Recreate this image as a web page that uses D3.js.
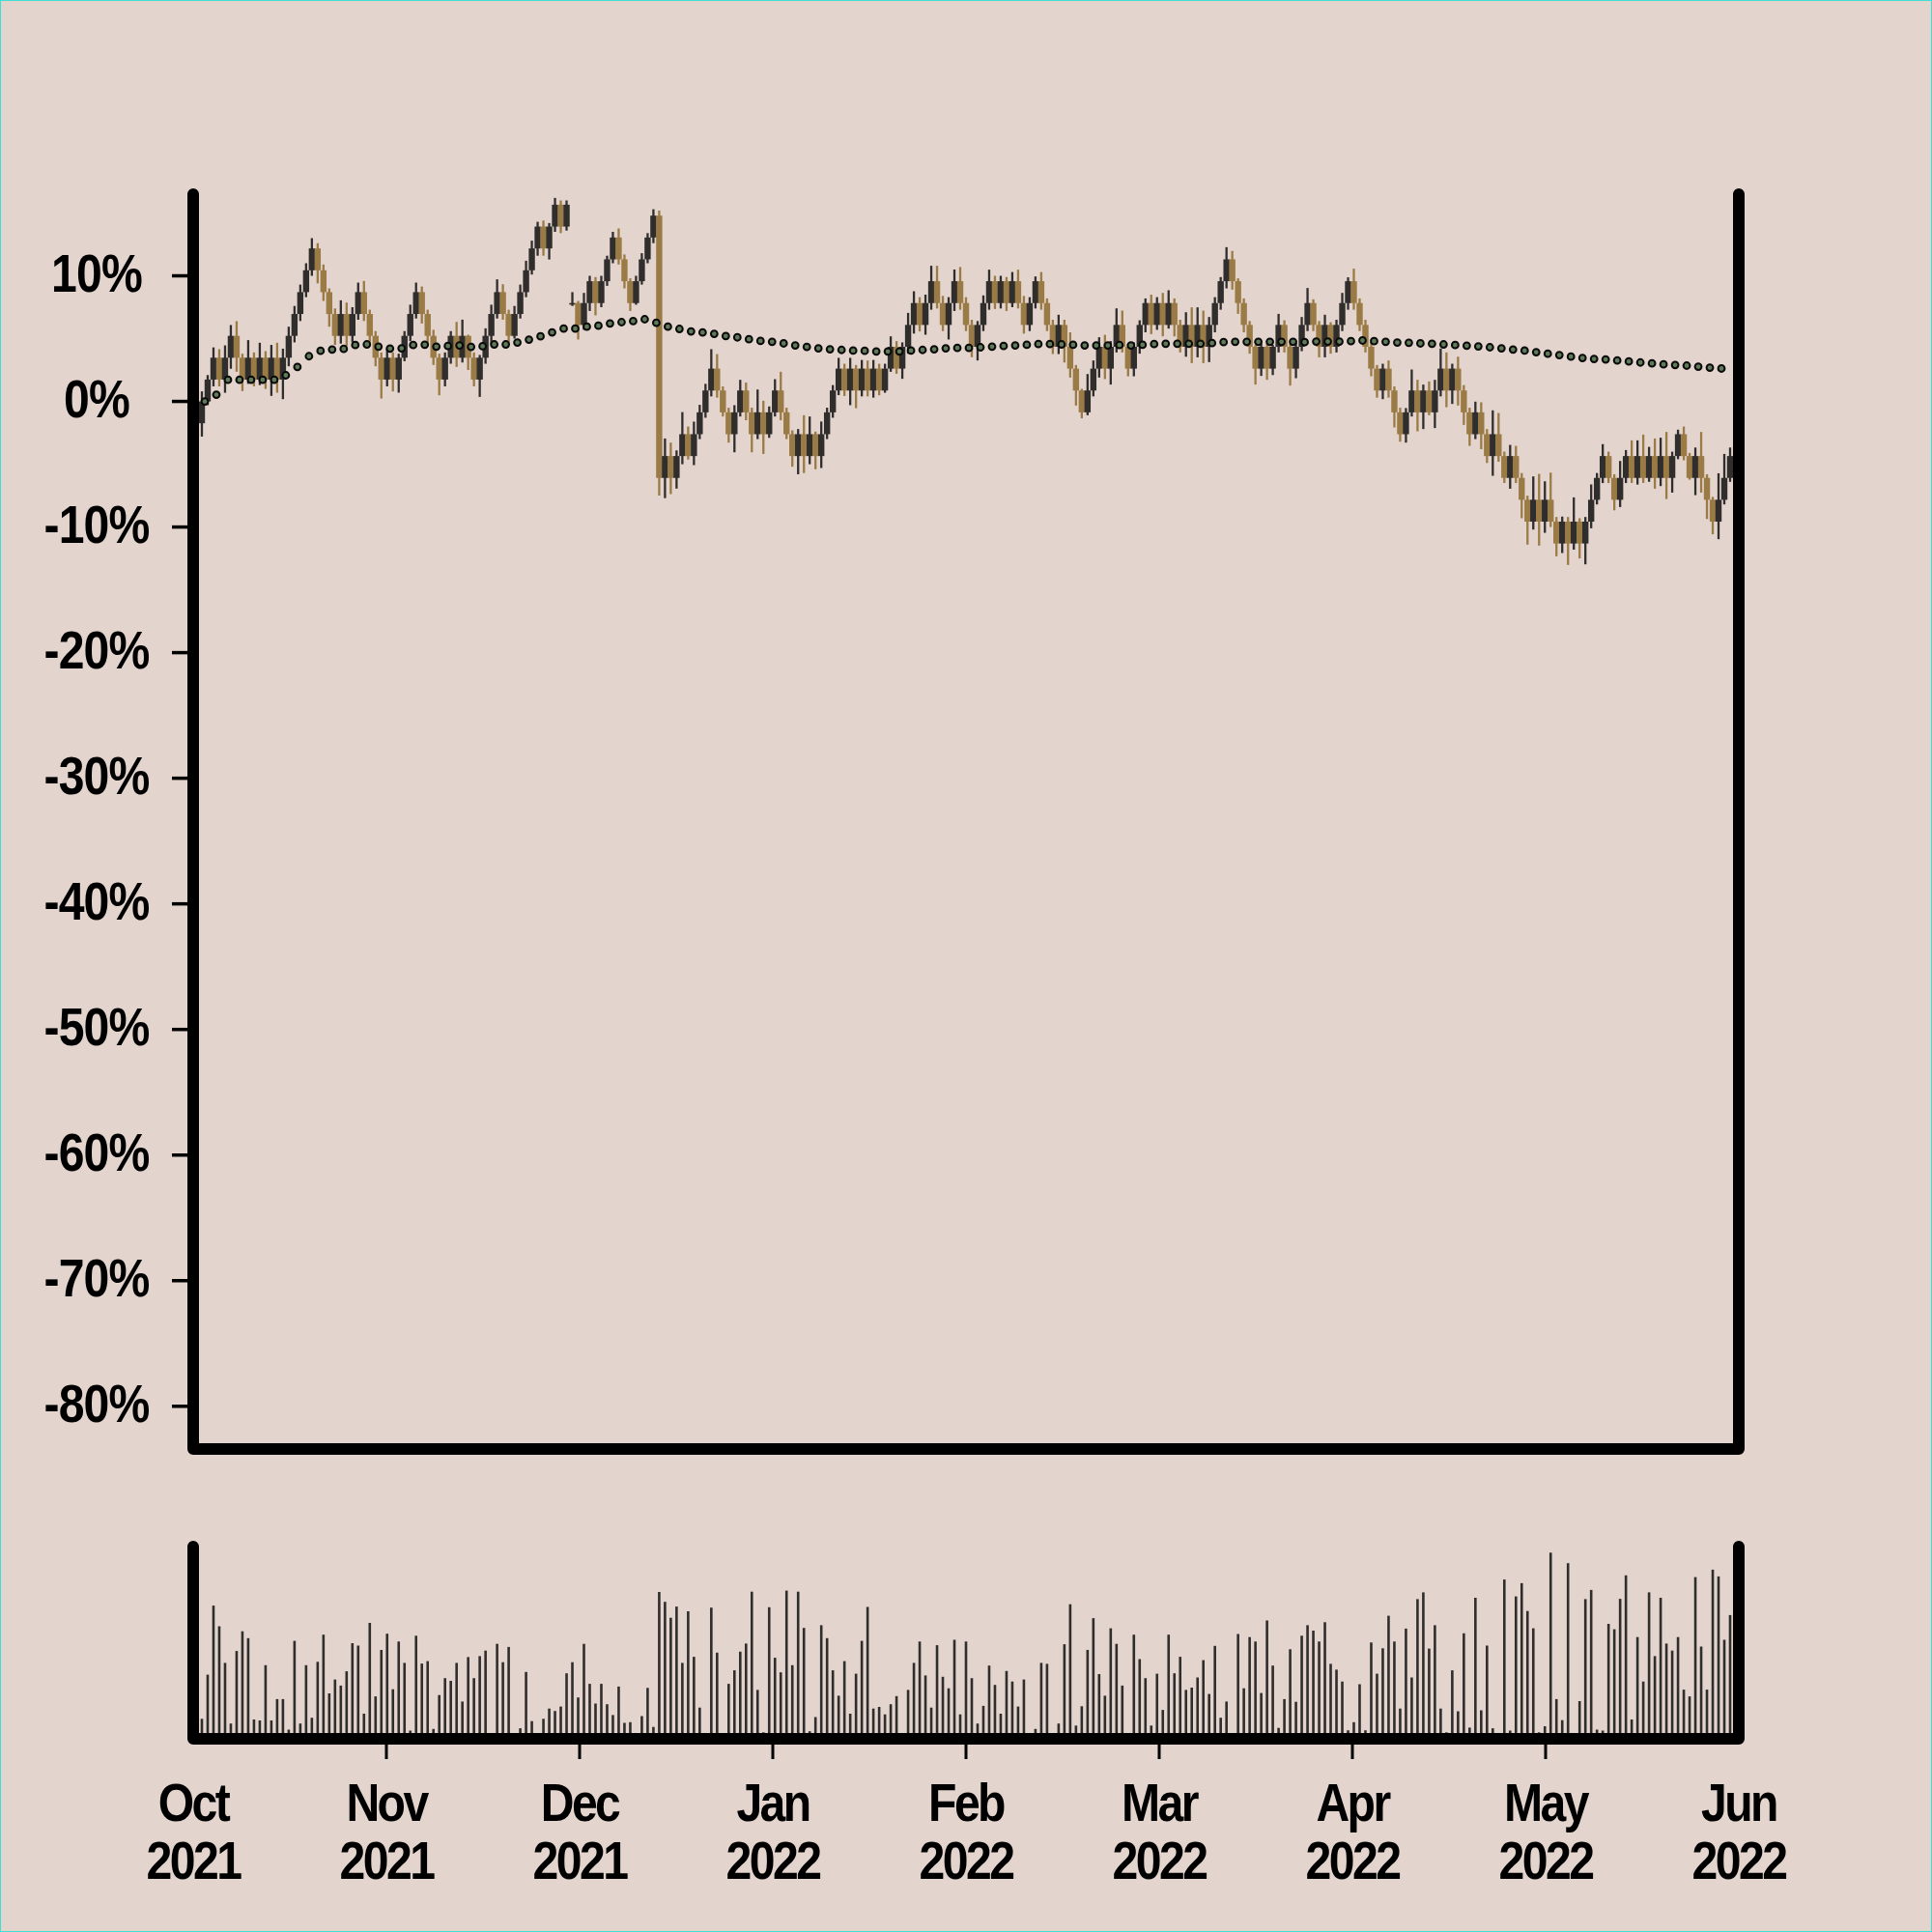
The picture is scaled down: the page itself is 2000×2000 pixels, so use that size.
<!DOCTYPE html>
<html><head><meta charset="utf-8">
<script src="https://cdn.jsdelivr.net/npm/d3@7"></script>
<style>html,body{margin:0;padding:0;background:#e3d4cd;}svg{display:block}</style>
</head><body><svg id="chart" width="2000" height="2000"></svg>
<script>
const monthLabels = ["Oct","Nov","Dec","Jan","Feb","Mar","Apr","May","Jun"];
const yearLabels  = ["2021","2021","2021","2022","2022","2022","2022","2022","2022"];
const yTickValues = [10,0,-10,-20,-30,-40,-50,-60,-70,-80];

const opens = [
-1.74,0,1.74,3.48,1.74,3.48,5.22,3.48,1.74,3.48,
1.74,3.48,1.74,3.48,1.74,3.48,5.22,6.96,8.7,10.44,
12.18,10.44,8.7,6.96,5.22,6.96,5.22,6.96,8.7,6.96,
5.22,3.48,1.74,3.48,1.74,3.48,5.22,6.96,8.7,6.96,
5.22,3.48,1.74,3.48,5.22,3.48,5.22,3.48,1.74,3.48,
5.22,6.96,8.7,6.96,5.22,6.96,8.7,10.44,12.18,13.92,
12.18,13.92,15.66,13.92,
7.83,
7.83,6.09,7.83,9.57,7.83,9.57,11.31,13.05,11.31,9.57,7.83,9.57,11.31,13.05,
14.79,
-6.09,-4.35,-6.09,-4.35,-2.61,-4.35,-2.61,-0.87,0.87,2.61,
0.87,-0.87,-2.61,-0.87,0.87,-0.87,-2.61,-0.87,-2.61,-0.87,
0.87,-0.87,-2.61,-4.35,-2.61,-4.35,-2.61,-4.35,-2.61,-0.87,
0.87,2.61,0.87,2.61,0.87,2.61,0.87,2.61,0.87,2.61,
4.35,2.61,4.35,6.09,7.83,6.09,7.83,9.57,7.83,6.09,
7.83,9.57,7.83,6.09,4.35,6.09,7.83,9.57,7.83,9.57,
7.83,9.57,7.83,6.09,7.83,9.57,7.83,6.09,4.35,6.09,
4.35,2.61,0.87,-0.87,0.87,2.61,4.35,2.61,4.35,6.09,
4.35,2.61,4.35,6.09,7.83,6.09,7.83,6.09,7.83,6.09,
4.35,6.09,4.35,6.09,4.35,6.09,7.83,9.57,11.31,9.57,
7.83,6.09,4.35,2.61,4.35,2.61,4.35,6.09,4.35,2.61,
4.35,6.09,7.83,6.09,4.35,6.09,4.35,6.09,7.83,9.57,
7.83,6.09,4.35,2.61,0.87,2.61,0.87,-0.87,-2.61,-0.87,
0.87,-0.87,0.87,-0.87,0.87,2.61,0.87,2.61,0.87,-0.87,
-2.61,-0.87,-2.61,-4.35,-2.61,-4.35,-6.09,-4.35,-6.09,-7.83,
-9.57,-7.83,-9.57,-7.83,-9.57,-11.31,-9.57,-11.31,-9.57,-11.31,
-9.57,-7.83,-6.09,-4.35,-6.09,-7.83,-6.09,-4.35,-6.09,-4.35,
-6.09,-4.35,-6.09,-4.35,-6.09,-4.35,-2.61,-4.35,-6.09,-4.35,
-6.09,-7.83,-9.57,-7.83,-6.09
];
const closes = [
0,1.74,3.48,1.74,3.48,5.22,3.48,1.74,3.48,1.74,
3.48,1.74,3.48,1.74,3.48,5.22,6.96,8.7,10.44,12.18,
10.44,8.7,6.96,5.22,6.96,5.22,6.96,8.7,6.96,5.22,
3.48,1.74,3.48,1.74,3.48,5.22,6.96,8.7,6.96,5.22,
3.48,1.74,3.48,5.22,3.48,5.22,3.48,1.74,3.48,5.22,
6.96,8.7,6.96,5.22,6.96,8.7,10.44,12.18,13.92,12.18,
13.92,15.66,13.92,15.66,
7.83,
6.09,7.83,9.57,7.83,9.57,11.31,13.05,11.31,9.57,7.83,9.57,11.31,13.05,14.79,
-6.09,
-4.35,-6.09,-4.35,-2.61,-4.35,-2.61,-0.87,0.87,2.61,0.87,
-0.87,-2.61,-0.87,0.87,-0.87,-2.61,-0.87,-2.61,-0.87,0.87,
-0.87,-2.61,-4.35,-2.61,-4.35,-2.61,-4.35,-2.61,-0.87,0.87,
2.61,0.87,2.61,0.87,2.61,0.87,2.61,0.87,2.61,4.35,
2.61,4.35,6.09,7.83,6.09,7.83,9.57,7.83,6.09,7.83,
9.57,7.83,6.09,4.35,6.09,7.83,9.57,7.83,9.57,7.83,
9.57,7.83,6.09,7.83,9.57,7.83,6.09,4.35,6.09,4.35,
2.61,0.87,-0.87,0.87,2.61,4.35,2.61,4.35,6.09,4.35,
2.61,4.35,6.09,7.83,6.09,7.83,6.09,7.83,6.09,4.35,
6.09,4.35,6.09,4.35,6.09,7.83,9.57,11.31,9.57,7.83,
6.09,4.35,2.61,4.35,2.61,4.35,6.09,4.35,2.61,4.35,
6.09,7.83,6.09,4.35,6.09,4.35,6.09,7.83,9.57,7.83,
6.09,4.35,2.61,0.87,2.61,0.87,-0.87,-2.61,-0.87,0.87,
-0.87,0.87,-0.87,0.87,2.61,0.87,2.61,0.87,-0.87,-2.61,
-0.87,-2.61,-4.35,-2.61,-4.35,-6.09,-4.35,-6.09,-7.83,-9.57,
-7.83,-9.57,-7.83,-9.57,-11.31,-9.57,-11.31,-9.57,-11.31,-9.57,
-7.83,-6.09,-4.35,-6.09,-7.83,-6.09,-4.35,-6.09,-4.35,-6.09,
-4.35,-6.09,-4.35,-6.09,-4.35,-2.61,-4.35,-6.09,-4.35,-6.09,
-7.83,-9.57,-7.83,-6.09,-4.35
];
const highs = [
0.8,2.1,4.3,4.16,4.46,6.08,6.39,3.8,4.88,3.9,
4.67,4.0,4.5,4.67,4.2,5.95,7.6,9.3,11.0,13.0,
12.6,10.9,9.0,7.4,8.05,7.87,7.5,9.46,9.59,7.3,
5.6,3.9,4.2,3.9,3.8,5.6,7.7,9.46,9.15,7.3,
5.7,3.8,3.9,5.6,6.33,6.51,5.31,3.9,3.7,5.82,
7.7,9.72,9.33,7.3,7.6,9.3,11.2,12.8,14.3,14.4,
14.2,16.2,16.0,16.0,
8.7,
8.0,8.64,10.0,9.9,10.0,11.6,13.5,13.77,11.7,9.8,10.0,11.8,13.4,15.3,
15.2,
-2.95,-3.28,-3.9,-0.85,-2.0,-1.61,-0.27,1.4,4.16,3.77,
1.2,-0.5,-0.3,1.72,1.5,-0.5,0.95,0.05,-0.4,1.77,
2.36,-0.5,-2.3,-2.2,-1.1,-1.2,-2.4,-1.6,-0.5,1.3,
3.47,3.0,3.47,2.9,3.3,3.26,3.3,3.0,3.0,5.18,
4.8,4.7,7.05,8.77,8.3,8.5,10.8,10.8,8.4,8.3,
10.5,10.7,8.3,6.5,6.4,8.44,10.49,10.0,10.0,9.9,
10.3,10.49,8.4,8.3,9.95,10.3,8.2,6.5,6.9,6.5,
5.5,2.9,1.0,2.18,3.26,5.11,5.3,4.8,7.41,7.23,
4.6,4.7,6.46,8.2,8.5,8.3,8.64,8.85,8.2,6.5,
7.1,7.49,7.49,7.23,6.72,8.3,9.9,12.28,11.98,9.8,
8.2,6.4,4.5,4.6,4.6,4.5,6.97,6.46,4.6,4.7,
6.72,9.03,8.13,6.4,6.9,6.3,6.5,8.64,9.88,10.57,
8.2,6.5,4.7,2.9,3.0,3.26,1.2,-0.5,-0.53,2.54,
1.72,1.34,1.59,1.72,4.21,3.9,3.0,3.56,1.3,-0.5,
-0.02,-0.07,-2.2,-0.71,-0.92,-4.0,-3.46,-3.54,-5.7,-7.5,
-5.97,-5.77,-6.36,-5.67,-9.2,-9.17,-9.2,-7.64,-9.3,-9.2,
-6.61,-5.7,-3.4,-4.0,-5.8,-4.74,-3.87,-3.1,-3.1,-2.64,
-3.62,-2.95,-2.89,-2.43,-4.0,-2.25,-2.0,-4.1,-3.67,-2.43,
-5.8,-7.6,-5.72,-4.18,-3.67
];
const lows = [
-2.8,-0.3,1.2,1.2,0.69,2.6,2.36,0.82,1.4,1.2,
1.3,1.0,0.44,0.69,0.18,2.8,4.7,6.4,8.3,10.0,
9.4,8.0,5.95,4.5,4.6,4.4,4.7,6.5,6.4,4.5,
2.8,0.23,1.2,0.8,0.7,3.2,4.8,6.6,6.2,4.6,
2.9,0.49,1.2,3.0,2.75,3.1,2.5,1.2,0.36,3.0,
4.6,6.6,6.5,4.6,5.0,6.6,8.3,10.1,11.6,11.6,
11.3,13.5,13.4,13.6,
7.6,
4.93,5.7,7.2,6.85,7.5,9.2,11.0,10.9,9.0,7.2,7.7,9.3,11.0,12.6,
-7.5,
-7.7,-7.38,-6.94,-5.0,-4.63,-5.07,-3.0,-1.3,0.4,0.3,
-1.2,-3.28,-4.05,-1.2,-1.5,-4.05,-3.0,-4.18,-2.9,-1.2,
-1.5,-3.0,-5.2,-5.8,-5.7,-5.0,-5.4,-5.3,-3.0,-1.3,
0.5,0.43,-0.3,-0.54,0.4,0.4,0.3,0.49,0.69,2.36,
2.2,1.8,3.8,5.4,5.57,5.31,7.3,7.4,5.6,4.93,
7.2,7.3,5.6,3.52,3.26,5.6,7.3,7.36,7.4,7.2,
7.5,7.4,5.4,5.6,7.4,7.3,5.6,3.77,3.77,3.1,
1.9,-0.33,-1.35,-1.1,0.4,1.9,1.78,1.34,3.9,3.9,
2.0,2.0,3.8,5.5,5.36,5.7,5.18,5.8,5.18,3.9,
3.56,3.05,3.51,3.05,3.13,5.5,7.3,9.0,8.9,6.97,
5.5,3.8,1.34,2.03,1.72,2.1,3.9,3.9,1.26,1.85,
4.0,5.6,5.6,3.51,3.51,3.8,3.9,5.6,7.3,7.3,
5.6,3.9,2.0,0.3,0.18,0.3,-2.07,-3.21,-3.28,-1.2,
-2.38,-2.2,-1.1,-2.12,0.4,-0.46,-0.2,-0.33,-1.87,-3.54,
-3.0,-3.8,-4.9,-5.92,-4.8,-6.49,-6.95,-6.5,-9.3,-11.4,
-10.2,-11.48,-10.46,-10.0,-12.33,-12.07,-13.02,-11.8,-12.5,-12.97,
-10.1,-8.2,-6.5,-6.5,-8.67,-8.41,-6.5,-6.49,-6.62,-6.49,
-6.4,-6.95,-6.74,-7.77,-7.26,-4.6,-4.69,-6.23,-7.46,-7.26,
-9.36,-10.58,-10.97,-8.2,-6.4
];
const volumes = [
14.7,60.4,131.9,110.5,72.6,9.8,84.9,105.3,98.2,14,
13,70.2,13,35.1,35.1,3.5,95.4,9.8,70.2,15.8,
73.7,101.8,41,55.4,49.1,63.9,93,90.5,20,114,
37.9,86,102.8,45.3,94.7,72.6,2.5,100.7,71.9,74.4,
4.2,39.3,56.8,54,72.6,32.6,78.6,56.8,79.6,85.3,
0,92.3,73.3,89.1,0,4.9,63.2,12.3,0,14.7,
25.3,22.8,27.4,61.8,73.3,36.8,92.3,50.9,30.5,50.9,
29.8,18.6,48.1,10.5,11.2,0,17.5,46.7,6.3,146,
135.8,119.3,130.9,72.6,126,78.9,26.3,0,129.8,83.2,
0,50.9,64.9,84.2,92.6,146.3,44.6,0.7,130.2,77.9,
62.8,147.4,70.2,146.3,108.8,1.8,16.5,111.6,98.2,64.9,
38.6,74.4,20,61.4,95.4,130.5,25.3,27,19.3,29.8,
38.2,0,44.6,72.6,94.7,59.6,26.3,90.9,58.2,46.3,
96.5,19.3,94.7,56.8,9.8,28.1,69.8,49.8,20,64.2,
53.3,27.4,55.4,0,4.2,72.6,71.6,0,9.8,91.9,
133.3,7.7,27.7,86,118.9,61,38.6,108.4,92.3,49.1,
0,101.8,76.5,56.8,7.7,61.4,23.9,101.8,61.8,78.9,
44.6,47,57.5,75.4,40.4,90.2,15.8,32.6,0,102.5,
46.3,99.3,94.7,41.4,116.5,69.8,5.3,35.1,86.7,32.3,
100.7,111.6,106,94.7,114.7,71.6,65.6,53.3,2.8,11.2,
50.5,2.8,93.7,61.4,87.7,121.4,94.7,25.3,108.1,57.5,
138.6,145.6,87.4,111.6,25.3,0.7,64.9,22.5,103.2,5.6,
140,23.5,90.5,4.9,0,158.9,2.5,141.4,155.1,126.3,
108.4,0.7,7,186.7,35.1,13.3,175.8,0,33,138.6,
148.1,3.5,2.5,113,107.4,138.9,163.2,14,99.3,53.3,
145.6,79.6,140,92.6,85.3,99.3,44.9,37.9,161.4,89.5,
44.9,169.1,162.1,96.5,122.1
];
const maValues = [
0.0,0.54,1.72,1.72,1.72,1.72,1.72,2.08,2.75,3.6,
4.03,4.13,4.18,4.49,4.54,4.36,4.21,4.23,4.49,4.52,
4.36,4.41,4.46,4.34,4.39,4.54,4.54,4.69,4.92,5.18,
5.5,5.8,5.8,5.95,6.03,6.21,6.31,6.39,6.54,6.26,
5.95,5.77,5.57,5.49,5.38,5.21,5.1,4.95,4.82,4.75,
4.62,4.46,4.34,4.23,4.15,4.1,4.05,4.03,3.98,3.98,
3.98,4.05,4.1,4.15,4.23,4.26,4.26,4.31,4.36,4.41,
4.46,4.51,4.57,4.57,4.54,4.51,4.46,4.46,4.46,4.49,
4.46,4.51,4.57,4.59,4.59,4.59,4.59,4.64,4.72,4.75,
4.75,4.75,4.75,4.75,4.75,4.72,4.77,4.77,4.77,4.8,
4.85,4.8,4.75,4.69,4.67,4.62,4.59,4.54,4.49,4.44,
4.38,4.31,4.23,4.13,4.05,3.92,3.8,3.69,3.57,3.46,
3.38,3.34,3.26,3.18,3.1,3.03,2.95,2.9,2.85,2.77,
2.69,2.62
];

const W = 2000, H = 2000;
const svg = d3.select("#chart");
const COL_UP = "#302d2d", COL_DOWN = "#9a7a45", COL_VOL = "#302d2d";
const FONT = "'Liberation Sans', Arial, Helvetica, sans-serif";

svg.append("rect").attr("x",0.5).attr("y",0.5).attr("width",W-1).attr("height",H-1)
  .attr("fill","#e3d4cd").attr("stroke","#3fe0d2").attr("stroke-width",1);

const N = closes.length;
const idx = d3.range(N);
const x = d3.scaleBand().domain(idx).range([206, 1794]).padding(0);
const bw = x.bandwidth();
const y = d3.scaleLinear().domain([-83.4, 16.5]).range([1500, 201]);
const yv = d3.scaleLinear().domain([0, 200]).range([1794, 1594]);
const xm = d3.scalePoint().domain(d3.range(monthLabels.length)).range([200, 1800]);

// candles
const cg = svg.append("g");
idx.forEach(i => {
  const o = opens[i], c = closes[i];
  const col = c >= o ? COL_UP : COL_DOWN;
  const cx = x(i) + bw / 2;
  cg.append("line").attr("x1", cx).attr("x2", cx)
    .attr("y1", y(highs[i])).attr("y2", y(lows[i]))
    .attr("stroke", col).attr("stroke-width", 2.3);
  const top = y(Math.max(o, c)), bot = y(Math.min(o, c));
  cg.append("rect").attr("x", x(i) - 0.2).attr("width", bw + 0.4)
    .attr("y", top).attr("height", Math.max(1.6, bot - top)).attr("fill", col);
});

// moving average dots
svg.append("g").selectAll("circle").data(maValues).join("circle")
  .attr("cx", (d, i) => x(2 * i) + bw)
  .attr("cy", d => y(d))
  .attr("r", 3.4)
  .attr("fill", "#5f7b59").attr("stroke", "#0a0a0a").attr("stroke-width", 2);

// volume bars
svg.append("g").selectAll("rect").data(volumes).join("rect")
  .attr("x", (d, i) => x(i) + bw / 2 - 1.3)
  .attr("width", 2.6)
  .attr("y", d => yv(d))
  .attr("height", d => yv(0) - yv(d))
  .attr("fill", COL_VOL);

// frames
const frame = (top, bottom) => svg.append("path")
  .attr("d", `M200,${top}V${bottom}H1800V${top}`)
  .attr("fill", "none").attr("stroke", "#000").attr("stroke-width", 12)
  .attr("stroke-linecap", "round").attr("stroke-linejoin", "round");

// y ticks and labels
const yt = svg.append("g");
yTickValues.forEach(v => {
  yt.append("line").attr("x1", 178).attr("x2", 198).attr("y1", y(v)).attr("y2", y(v))
    .attr("stroke", "#000").attr("stroke-width", 3.5);
  yt.append("text")
    .attr("transform", `translate(100,${y(v) + 16}) scale(0.86,1)`)
    .attr("text-anchor", "middle")
    .attr("font-family", FONT).attr("font-weight", "bold").attr("font-size", 56)
    .attr("letter-spacing", -1)
    .attr("fill", "#000").text(v + "%");
});
frame(201, 1500);
frame(1601, 1800);

// x ticks and labels
const xt = svg.append("g");
monthLabels.forEach((m, i) => {
  const px = xm(i);
  if (i > 0 && i < monthLabels.length - 1) {
    xt.append("line").attr("x1", px).attr("x2", px).attr("y1", 1800).attr("y2", 1821)
      .attr("stroke", "#000").attr("stroke-width", 3);
  }
  xt.append("text")
    .attr("transform", `translate(${px},1885) scale(0.86,1)`)
    .attr("text-anchor", "middle")
    .attr("font-family", FONT).attr("font-weight", "bold").attr("font-size", 56)
    .attr("letter-spacing", -3)
    .attr("fill", "#000").text(m);
  xt.append("text")
    .attr("transform", `translate(${px},1945) scale(0.86,1)`)
    .attr("text-anchor", "middle")
    .attr("font-family", FONT).attr("font-weight", "bold").attr("font-size", 56)
    .attr("letter-spacing", -3)
    .attr("fill", "#000").text(yearLabels[i]);
});
</script>
</body></html>
